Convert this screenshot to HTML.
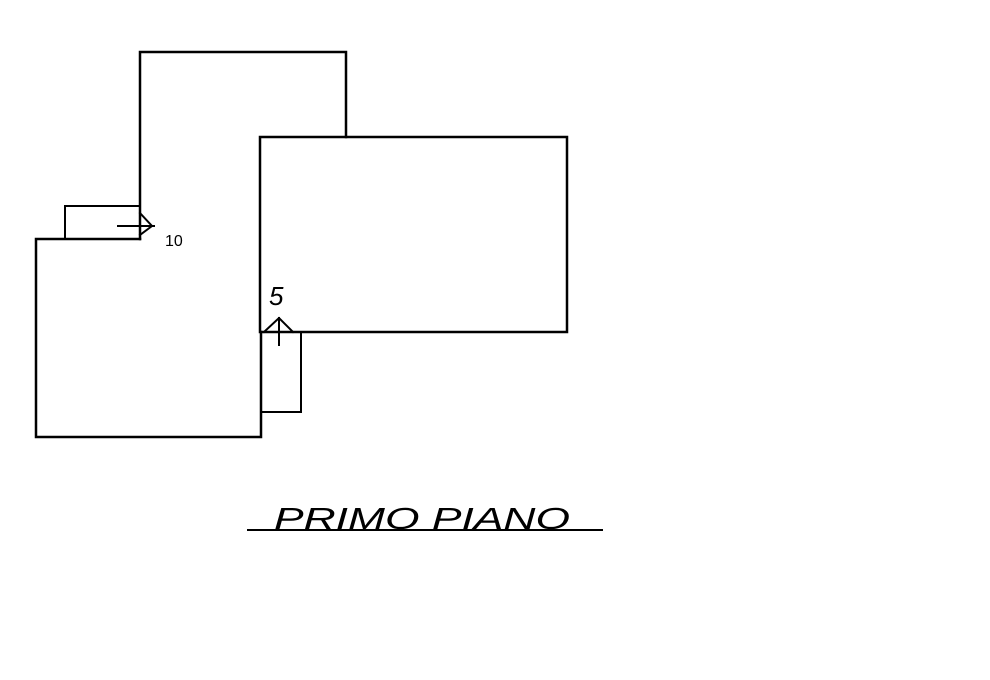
<!DOCTYPE html>
<html><head><style>body{margin:0;background:#fff}svg{display:block}</style></head><body>
<svg width="990" height="680" viewBox="0 0 990 680" xmlns="http://www.w3.org/2000/svg">
<g stroke="#000" stroke-width="2.5" fill="none" stroke-linecap="square">
<polyline points="140,239 140,52 346,52 346,137"/>
<rect x="260" y="137" width="307" height="195"/>
<polyline points="140,239 36,239 36,437 261,437 261,332"/>
<polyline points="65,239 65,206 140,206" stroke-width="2"/>
<polyline points="261,412 301,412 301,332" stroke-width="2"/>
<line x1="118" y1="226" x2="154" y2="226" stroke-width="2"/>
<polyline points="140,213 152,226 140,235" stroke-width="2"/>
<line x1="279" y1="345" x2="279" y2="318" stroke-width="2"/>
<polyline points="264,332 279,318 293,332" stroke-width="2"/>
<line x1="248" y1="530" x2="602" y2="530" stroke-width="2"/>
</g>
<text x="165" y="246" font-family="Liberation Sans, sans-serif" font-size="16">10</text>
<text x="269" y="305" font-family="Liberation Sans, sans-serif" font-size="26" font-style="italic">5</text>
<text x="274" y="529" font-family="Liberation Sans, sans-serif" font-size="31" font-style="italic" textLength="296" lengthAdjust="spacingAndGlyphs">PRIMO PIANO</text>
</svg>
</body></html>
